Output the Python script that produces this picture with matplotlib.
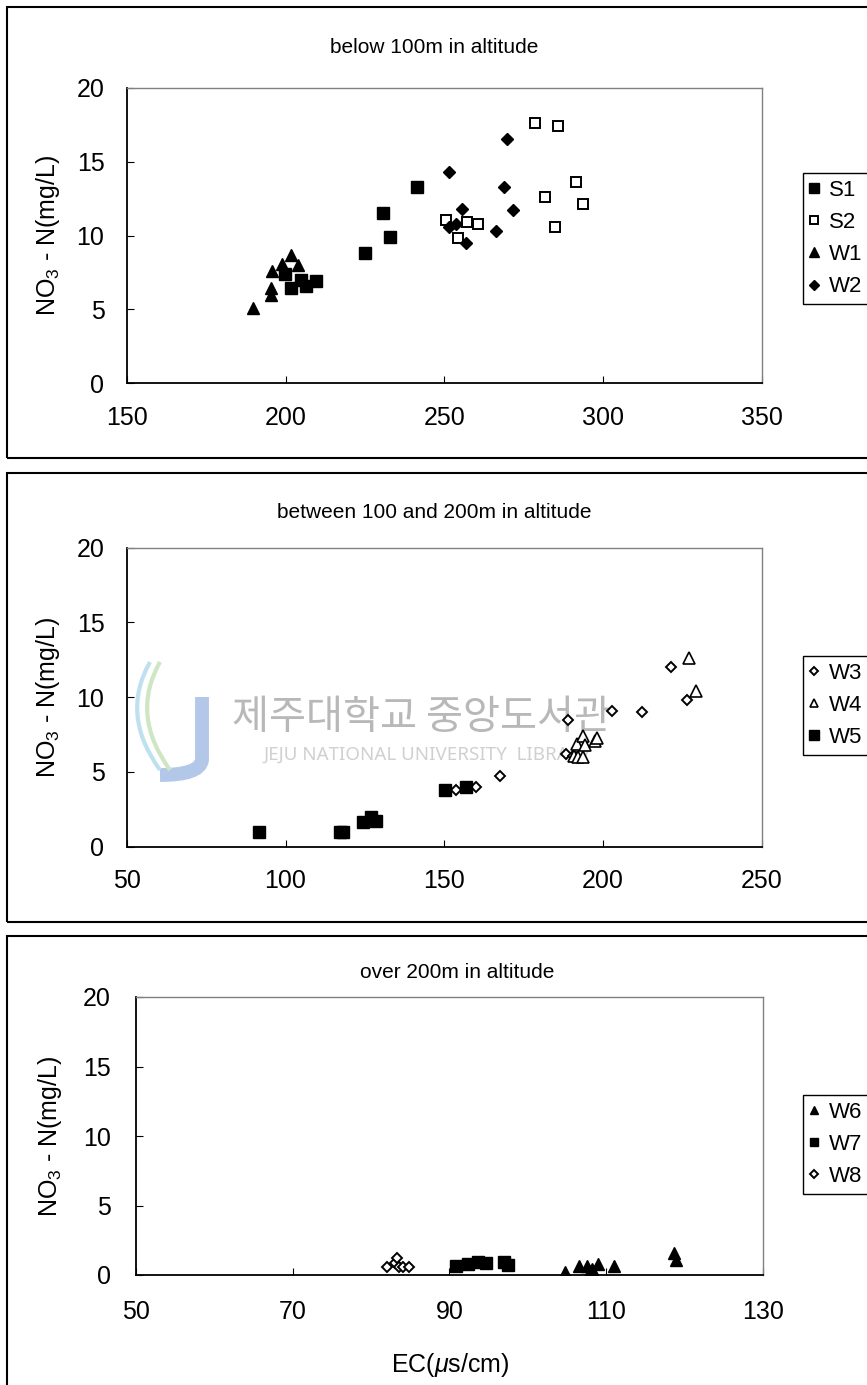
import matplotlib
matplotlib.use("Agg")
import matplotlib.pyplot as plt
from matplotlib.patches import Rectangle
from matplotlib.path import Path
from matplotlib.patches import PathPatch

plt.rcParams['font.family'] = ['Liberation Sans', 'DejaVu Sans']
plt.rcParams['mathtext.fontset'] = 'custom'
plt.rcParams['mathtext.rm'] = 'Liberation Sans'
plt.rcParams['mathtext.it'] = 'Liberation Sans:italic'

# below 100 m
S1_x = [199.7, 201.8, 204.9, 206.5, 209.6, 225.0, 230.8, 232.9, 241.3]
S1_y = [7.4, 6.45, 7.0, 6.6, 6.9, 8.8, 11.5, 9.9, 13.3]
S2_x = [250.4, 254.4, 257.2, 260.7, 278.4, 285.7, 291.4, 281.8, 293.6, 284.7]
S2_y = [11.05, 9.8, 10.9, 10.8, 17.6, 17.4, 13.6, 12.6, 12.1, 10.6]
W1_x = [189.7, 195.5, 195.3, 195.7, 198.8, 201.8, 203.9]
W1_y = [5.1, 6.45, 6.0, 7.6, 8.1, 8.65, 8.0]
W2_x = [251.5, 269.8, 268.7, 255.6, 271.6, 266.3, 256.7, 251.5, 253.6]
W2_y = [14.3, 16.5, 13.3, 11.8, 11.7, 10.3, 9.5, 10.55, 10.8]

# between 100 and 200 m
W3_x = [153.6, 160.0, 167.5, 188.3, 188.9, 190.5, 191.5, 202.7, 212.1, 221.4, 226.5]
W3_y = [3.8, 4.0, 4.75, 6.2, 8.5, 6.1, 6.0, 9.1, 9.0, 12.0, 9.8]
W4_x = [190.7, 191.7, 192.2, 193.6, 193.8, 194.4, 197.3, 198.0, 227.1, 229.2]
W4_y = [6.1, 6.85, 6.0, 7.4, 6.0, 6.8, 7.1, 7.3, 12.65, 10.4]
W5_x = [91.5, 117.0, 118.0, 124.3, 126.9, 128.5, 150.1, 156.7]
W5_y = [1.0, 1.0, 1.0, 1.65, 2.0, 1.75, 3.8, 4.0]

# over 200 m
W6_x = [104.8, 106.5, 107.5, 108.2, 109.0, 108.0, 111.0, 118.6, 118.9]
W6_y = [0.2, 0.63, 0.63, 0.45, 0.8, 0.3, 0.63, 1.6, 1.1]
W7_x = [90.9, 92.4, 93.6, 94.7, 97.0, 97.5]
W7_y = [0.68, 0.8, 0.9, 0.85, 0.9, 0.75]
W8_x = [82.0, 83.1, 83.3, 83.6, 84.1, 84.9]
W8_y = [0.55, 0.85, 1.2, 0.55, 0.55, 0.55]

y_ticks = [0, 5, 10, 15, 20]
x_ticks_1 = [150, 200, 250, 300, 350]
x_ticks_2 = [50, 100, 150, 200, 250]
x_ticks_3 = [50, 70, 90, 110, 130]

titles = ["below 100m in altitude",
          "between 100 and 200m in altitude",
          "over 200m in altitude"]

W, H = 867, 1385


def fx(x):
    return x / W


def fy(y):
    return 1 - y / H


def add_axes(left, top, right, bottom):
    ax = plt.gcf().add_axes([fx(left), fy(bottom), (right - left) / W, (bottom - top) / H])
    ax.set_facecolor('none')
    return ax


def style_axis(ax, xticks, pad):
    ax.set_xlim(xticks[0], xticks[-1])
    ax.set_ylim(0, 20)
    ax.set_xticks(xticks)
    ax.set_yticks(y_ticks)
    ax.tick_params(direction='in', length=5, width=0.8, labelsize=18, pad=pad)
    for side in ['left', 'bottom']:
        ax.spines[side].set_color('black')
        ax.spines[side].set_linewidth(1.3)
    for side in ['top', 'right']:
        ax.spines[side].set_color('#808080')
        ax.spines[side].set_linewidth(1.0)


def legend(ax, top):
    ax.legend(loc='upper left', bbox_to_anchor=(fx(802.7), fy(top)),
              bbox_transform=plt.gcf().transFigure, fontsize=16,
              frameon=True, fancybox=False, edgecolor='black', framealpha=1,
              borderpad=0.3, labelspacing=0.5, handlelength=0.4,
              handletextpad=0.5, borderaxespad=0, markerscale=0.8)


fig = plt.figure(figsize=(W / 100, H / 100), dpi=100)

# panel frames
for top, bottom in [(7, 458), (472.7, 921.7), (936, 1400)]:
    fig.add_artist(Rectangle((fx(7), fy(bottom)), 1.2, (bottom - top) / H,
                             transform=fig.transFigure, fill=False,
                             edgecolor='black', linewidth=1.5))

# library watermark
fig.text(fx(422), fy(718), "제주대학교 중앙도서관", fontsize=29, color='#b8b8b8',
         family=['Noto Sans CJK KR'], ha='center', va='center', zorder=-1)
fig.text(fx(427), fy(755), "JEJU NATIONAL UNIVERSITY  LIBRARY", fontsize=13.5,
         color='#d0d0d0', family=['Noto Sans'], ha='center', va='center', zorder=-1)
j_path = Path([(fx(202), fy(697)), (fx(202), fy(760)), (fx(200), fy(775)), (fx(160), fy(775))],
              [Path.MOVETO, Path.LINETO, Path.CURVE3, Path.CURVE3])
fig.add_artist(PathPatch(j_path, transform=fig.transFigure, fill=False,
                         edgecolor='#b3c8e8', linewidth=10, zorder=-1))
for col, dx in [('#bfe0ef', 0), ('#cfe6c4', 10)]:
    swoosh = Path([(fx(150 + dx), fy(662)), (fx(120 + dx), fy(715)), (fx(160 + dx), fy(770))],
                  [Path.MOVETO, Path.CURVE3, Path.CURVE3])
    fig.add_artist(PathPatch(swoosh, transform=fig.transFigure, fill=False,
                             edgecolor=col, linewidth=3, zorder=-1))

filled = dict(color='black', linestyle='none')
hollow = dict(color='black', markerfacecolor='white', linestyle='none')

# below 100 m
ax1 = add_axes(126.7, 87.7, 762, 383.3)
ax1.plot(S1_x, S1_y, marker='s', markersize=8.5, label='S1', **filled)
ax1.plot(S2_x, S2_y, marker='s', markersize=7.5, markeredgewidth=1.4, label='S2', **hollow)
ax1.plot(W1_x, W1_y, marker='^', markersize=9, label='W1', **filled)
ax1.plot(W2_x, W2_y, marker='D', markersize=6.5, label='W2', **filled)
style_axis(ax1, x_ticks_1, 16)
legend(ax1, 173.3)

# between 100 and 200 m
ax2 = add_axes(126.7, 547.7, 762, 846.7)
ax2.plot(W3_x, W3_y, marker='D', markersize=5.5, markeredgewidth=1.4, label='W3', **hollow)
ax2.plot(W4_x, W4_y, marker='^', markersize=8, markeredgewidth=1.2, label='W4', **hollow)
ax2.plot(W5_x, W5_y, marker='s', markersize=8.5, label='W5', **filled)
style_axis(ax2, x_ticks_2, 16)
legend(ax2, 656)

# over 200 m
ax3 = add_axes(135.7, 997, 763, 1275)
ax3.plot(W6_x, W6_y, marker='^', markersize=8, label='W6', **filled)
ax3.plot(W7_x, W7_y, marker='s', markersize=8, label='W7', **filled)
ax3.plot(W8_x, W8_y, marker='D', markersize=5.5, markeredgewidth=1.4, label='W8', **hollow)
style_axis(ax3, x_ticks_3, 18)
legend(ax3, 1095)

# titles and axis labels
for title, xc, base in zip(titles, [434, 434, 457], [53, 518, 978]):
    fig.text(fx(xc), fy(base), title, fontsize=15, ha='center', va='baseline')

for yc, xc in [(235.5, 48), (697, 48), (1136, 50)]:
    fig.text(fx(xc), fy(yc), r"NO$_3$ - N(mg/L)", fontsize=18, rotation=90,
             ha='center', va='center')

fig.text(fx(450), fy(1365), r"EC($\mu$s/cm)", fontsize=18, ha='center', va='center')

fig.savefig('out.png', dpi=100)
